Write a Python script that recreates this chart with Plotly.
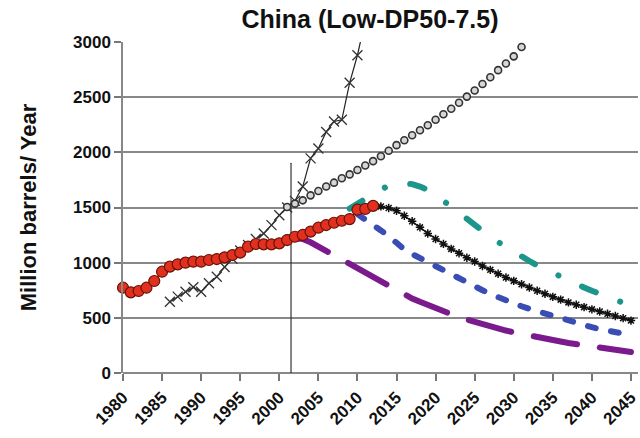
import plotly.graph_objects as go

# ---- data (million barrels per year) ----
hist_years = list(range(1980, 2013))
hist_prod = [773, 731, 743, 773, 834, 918, 964, 985, 1000, 1009, 1009,
             1024, 1033, 1048, 1069, 1091, 1145, 1169, 1166, 1166, 1175,
             1205, 1235, 1251, 1281, 1317, 1341, 1362, 1380, 1395, 1480,
             1487, 1515]

cons_years = list(range(1986, 2012))
consumption = [646, 692, 737, 777, 737, 813, 873, 960, 1035, 1110, 1160,
               1215, 1265, 1340, 1430, 1500, 1560, 1690, 1945, 2035, 2185,
               2280, 2295, 2630, 2880, 3200]

demand_years = list(range(2001, 2032))
demand = [1505, 1535, 1565, 1610, 1650, 1690, 1725, 1765, 1800, 1840,
          1880, 1920, 1965, 2015, 2065, 2110, 2155, 2200, 2245, 2295,
          2345, 2395, 2450, 2505, 2560, 2620, 2680, 2745, 2805, 2870,
          2955]

low_years = list(range(2001, 2046))
low_case = [1230, 1228, 1215, 1185, 1145, 1105, 1065, 1025, 985, 945,
            905, 865, 825, 785, 745, 710, 675, 645, 615, 585, 555, 530,
            505, 485, 463, 443, 423, 403, 385, 368, 352, 337, 325, 312,
            298, 285, 272, 260, 250, 240, 230, 220, 210, 200, 190]

mid_years = list(range(2010, 2046))
mid_case = [1440, 1395, 1345, 1292, 1240, 1175, 1120, 1078, 1040, 1003,
            965, 930, 895, 858, 820, 785, 750, 715, 685, 657, 630, 605,
            582, 560, 535, 512, 490, 470, 452, 435, 415, 397, 382, 370,
            358, 345]

high_years = list(range(2009, 2046))
high_case = [1490, 1535, 1580, 1625, 1665, 1695, 1715, 1720, 1712,
             1690, 1660, 1615, 1560, 1500, 1440, 1385, 1330, 1283, 1235,
             1187, 1140, 1095, 1055, 1015, 975, 940, 902, 868, 835, 805,
             775, 745, 715, 688, 662, 637, 615]

base_years = list(range(2012, 2046))
base_case = [1515, 1510, 1495, 1470, 1425, 1375, 1320, 1265, 1215, 1170,
             1125, 1085, 1045, 1010, 970, 935, 900, 865, 835, 805, 775,
             745, 718, 690, 665, 640, 618, 597, 577, 557, 537, 517, 497,
             475]

divider_x = [2001.5, 2001.5]
divider_y = [0, 1900]

tick_years = list(range(1980, 2050, 5))
y_ticks = list(range(0, 3001, 500))

FONT = "Liberation Sans, Arial, sans-serif"

fig = go.Figure()

fig.add_trace(go.Scatter(x=divider_x, y=divider_y, mode="lines",
                         line=dict(color="#333333", width=1.2),
                         hoverinfo="skip"))

fig.add_trace(go.Scatter(x=low_years, y=low_case, mode="lines",
                         line=dict(color="#7b1a8c", width=6,
                                   dash="44px,23px")))
fig.add_trace(go.Scatter(x=mid_years, y=mid_case, mode="lines",
                         line=dict(color="#3a4db5", width=6,
                                   dash="8px,15.5px")))
fig.add_trace(go.Scatter(x=high_years, y=high_case, mode="lines",
                         line=dict(color="#1c958b", width=6,
                                   dash="15px,26px,0.1px,26px")))
fig.add_trace(go.Scatter(x=base_years, y=base_case, mode="lines+markers",
                         line=dict(color="#111111", width=1.5),
                         marker=dict(symbol="asterisk-open", size=7,
                                     color="#111111",
                                     line=dict(color="#111111", width=1.5))))
fig.add_trace(go.Scatter(x=cons_years, y=consumption, mode="lines+markers",
                         line=dict(color="#222222", width=1.2),
                         marker=dict(symbol="x-thin-open", size=10,
                                     color="#333333",
                                     line=dict(color="#333333", width=1.3))))
fig.add_trace(go.Scatter(x=demand_years, y=demand, mode="markers",
                         marker=dict(symbol="circle", size=7,
                                     color="#d6d6d6",
                                     line=dict(color="#333333", width=1.6))))
fig.add_trace(go.Scatter(x=hist_years, y=hist_prod, mode="lines+markers",
                         cliponaxis=False,
                         line=dict(color="#c0281c", width=1.5),
                         marker=dict(symbol="circle", size=11,
                                     color="#e2301f",
                                     line=dict(color="#6a1208", width=1.2))))

fig.update_layout(
    width=640, height=438,
    margin=dict(l=123, r=0, t=42, b=65),
    paper_bgcolor="white", plot_bgcolor="white",
    showlegend=False,
    title=dict(text="<b>China (Low-DP50-7.5)</b>",
               font=dict(family=FONT, size=25, color="#111111"),
               x=370 / 640, xanchor="center", y=1 - 19 / 438, yanchor="middle"),
)

fig.update_xaxes(
    range=[1980, 2045.9], tickmode="array", tickvals=tick_years,
    ticktext=[f"<b>{y}</b>" for y in tick_years], tickangle=-45,
    tickfont=dict(family=FONT, size=17, color="#111111"),
    ticklabeloverflow="allow",
    ticks="outside", ticklen=7, tickcolor="#777777", tickwidth=1.5,
    showline=False, showgrid=False, zeroline=False,
)

fig.update_yaxes(
    range=[0, 3000], tickmode="array", tickvals=y_ticks,
    ticktext=[f"<b>{v}</b>" for v in y_ticks],
    tickfont=dict(family=FONT, size=17, color="#111111"),
    ticks="outside", ticklen=7, tickcolor="#777777", tickwidth=1.5,
    showline=True, linecolor="#888888", linewidth=1.5,
    showgrid=True, gridcolor="#888888", gridwidth=1.5,
    zeroline=True, zerolinecolor="#888888", zerolinewidth=1.5,
    title=dict(text="<b>Million barrels/ Year</b>",
               font=dict(family=FONT, size=22, color="#111111"),
               standoff=30),
)

# rounded ends on the dashed projection lines
round_caps = """
document.querySelectorAll('.scatterlayer .js-line').forEach(function (p) {
  p.style.strokeLinecap = 'round';
});
"""

fig.write_html("out.html", post_script=round_caps)
